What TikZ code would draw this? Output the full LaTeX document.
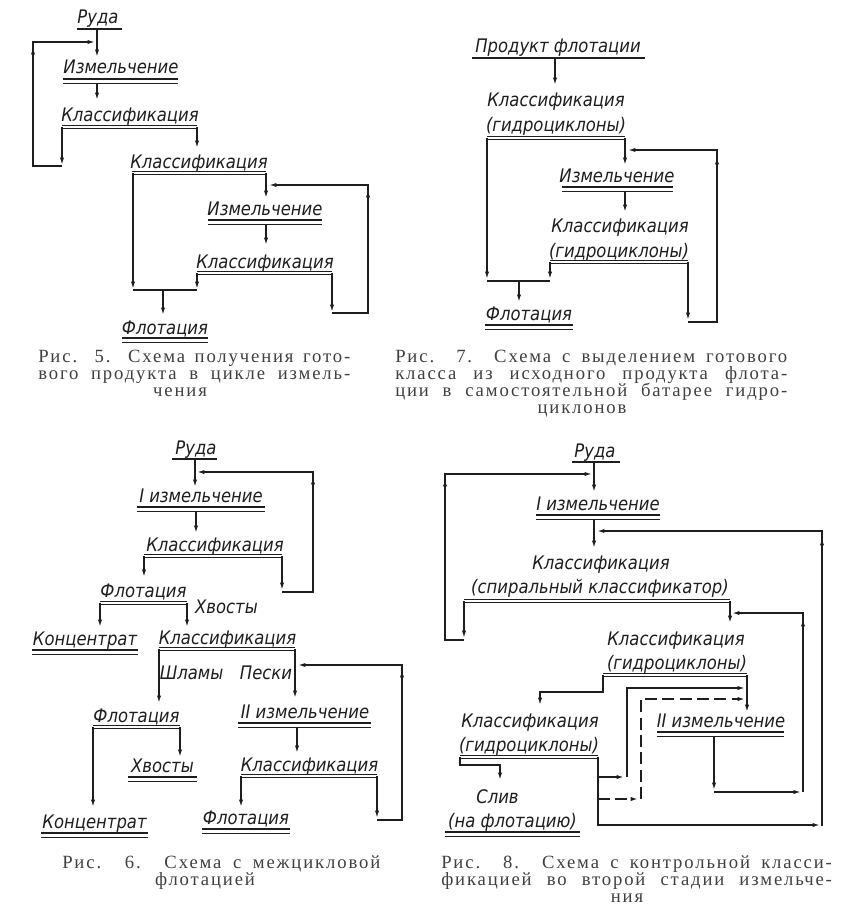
\documentclass[tikz,border=0pt]{standalone}
\usepackage{fontspec}
\setmainfont{Liberation Serif}
\newfontfamily\labfont{DejaVu Sans}[FakeStretch=0.88]
\newfontfamily\capfont{Liberation Serif}[LetterSpace=10]
\usetikzlibrary{arrows.meta}
\definecolor{ink}{HTML}{1E1E1E}
\tikzset{
  ln/.style={line width=1.1pt, ink, line join=miter},
  ar/.style={ln, -{Latex[length=5.5pt,width=3.2pt]}},
  lab/.style={font=\labfont\itshape\fontsize{14pt}{16pt}\selectfont, anchor=base, inner sep=0pt, text=ink},
  dbar/.style={draw=ink, line width=0.6pt, double=white, double distance=1.2pt},
  thbar/.style={line width=1.7pt, ink},
  capt/.style={font=\capfont\fontsize{14pt}{16pt}\selectfont, anchor=base west, inner sep=0pt, text=ink!85},
  captc/.style={capt, anchor=base},
  dsh/.style={dash pattern=on 9pt off 4pt}
}
\newcommand\twinbar[3]{\draw[line width=0.95pt,ink] (#1,#3)--(#2,#3); \draw[line width=0.6pt,ink] (#1,#3+4)--(#2,#3+4);}
\begin{document}
\begin{tikzpicture}[x=0.75pt,y=-0.75pt]
\useasboundingbox[fill=white] (0,0) rectangle (844,917);

% ================= Fig 5 =================
\node[lab] (a1) at (98,24) {Руда};
\draw[thbar] (77,29) -- (122,29);
\node[lab] (a2) at (121,74) {Измельчение};
\twinbar{63}{178}{79}
\node[lab] (a3) at (130,122) {Классификация};
\draw[dbar] (62,127)--(197,127);
\node[lab] (a4) at (199,168) {Классификация};
\draw[dbar] (132,173)--(266,173);
\node[lab] (a5) at (265,215) {Измельчение};
\twinbar{208}{322}{220}
\node[lab] (a6) at (265,268) {Классификация};
\draw[dbar] (197,273)--(332,273);
\node[lab] (a7) at (165,334) {Флотация};
\twinbar{122}{208}{338}

\draw[ar] (97,29)--(97,57);
\draw[ar] (97,83)--(97,100);
\draw[ar] (62,127)--(62,165);
\draw[ar] (62,166)--(33,166)--(33,42)--(95,42);
\draw[ar] (33,62)--(33,47);
\draw[ar] (197,127)--(197,148);
\draw[ar] (133,173)--(133,289);
\draw[ar] (266,173)--(266,198);
\draw[ar] (332,313)--(368,313)--(368,185)--(269,185);
\draw[ar] (368,205)--(368,190);
\draw[ar] (266,224)--(266,245);
\draw[ar] (197,273)--(197,289);
\draw[ln] (133,290)--(197,290);
\draw[ar] (163,290)--(163,315);
\draw[ar] (332,273)--(332,312);

\node[capt] (c5a) at (38,362) {\makebox[234pt][s]{Рис. 5. Схема получения гото-}};
\node[capt] (c5b) at (38,379) {\makebox[234pt][s]{вого продукта в цикле измель-}};
\node[captc] (c5c) at (180,396) {чения};

% ================= Fig 7 =================
\node[lab] (b1) at (558,53) {Продукт флотации};
\draw[thbar] (472,58)--(645,58);
\draw[ar] (555,58)--(555,85);
\node[lab] (b2) at (556,107) {Классификация};
\node[lab] (b2b) at (556,132) {(гидроциклоны)};
\draw[dbar] (487,138)--(625,138);
\draw[ar] (487,138)--(487,279);
\draw[ln] (487,281)--(550,281);
\draw[ar] (625,138)--(625,165);
\draw[ar] (688,322)--(717,322)--(717,150)--(628,150);
\draw[ar] (717,172)--(717,157);
\node[lab] (b3) at (617,182) {Измельчение};
\twinbar{562}{673}{187}
\draw[ar] (625,191)--(625,212);
\node[lab] (b4) at (620,232) {Классификация};
\node[lab] (b4b) at (619,257) {(гидроциклоны)};
\draw[dbar] (550,262)--(688,262);
\draw[ar] (550,262)--(550,279);
\draw[ar] (688,262)--(688,320);
\draw[ar] (519,281)--(519,302);
\node[lab] (b5) at (529,320) {Флотация};
\twinbar{485}{573}{325}

\node[capt] (c7a) at (395,362) {\makebox[294pt][s]{Рис. 7. Схема с выделением готового}};
\node[capt] (c7b) at (395,379) {\makebox[294pt][s]{класса из исходного продукта флота-}};
\node[capt] (c7c) at (395,396) {\makebox[294pt][s]{ции в самостоятельной батарее гидро-}};
\node[captc] (c7d) at (582,413) {циклонов};

% ================= Fig 6 =================
\node[lab] (d1) at (196,454) {Руда};
\draw[thbar] (172,459)--(217,459);
\draw[ar] (195,459)--(195,487);
\node[lab] (d2) at (201,502) {I измельчение};
\twinbar{137}{265}{507}
\draw[ar] (196,511)--(196,533);
\node[lab] (d3) at (215,551) {Классификация};
\draw[dbar] (144,556)--(282,556);
\draw[ar] (144,556)--(144,577);
\draw[ar] (282,556)--(282,590);
\draw[ar] (282,592)--(313,592)--(313,472)--(197,472);
\draw[ar] (313,492)--(313,477);
\node[lab] (d4) at (143.5,597) {Флотация};
\draw[dbar] (100,603)--(187,603);
\node[lab] (d5) at (226.5,613) {Хвосты};
\draw[ar] (100,603)--(100,627);
\draw[ar] (187,603)--(187,627);
\node[lab] (d6) at (85,645) {Концентрат};
\twinbar{32}{138}{650}
\node[lab] (d7) at (227.5,644) {Классификация};
\draw[dbar] (159,649)--(295,649);
\draw[ar] (159,649)--(159,703);
\draw[ar] (295,649)--(295,698);
\node[lab] (d8) at (191.5,679) {Шламы};
\node[lab] (d9) at (266,679) {Пески};
\draw[ar] (377,820)--(402,820)--(402,665)--(298,665);
\draw[ar] (402,685)--(402,670);
\node[lab] (d10) at (136.5,722) {Флотация};
\draw[dbar] (93,727)--(180,727);
\draw[ar] (93,727)--(93,807);
\draw[ar] (180,727)--(180,757);
\node[lab] (d11) at (305,718) {II измельчение};
\twinbar{238}{371}{723}
\draw[ar] (297,727)--(297,753);
\node[lab] (d12) at (309.5,771) {Классификация};
\draw[dbar] (241,776)--(377,776);
\draw[ar] (241,776)--(241,807);
\draw[ar] (377,776)--(377,818);
\node[lab] (d13) at (162.5,772) {Хвосты};
\twinbar{128}{197}{777}
\node[lab] (d14) at (94.5,828) {Концентрат};
\twinbar{41}{148}{833}
\node[lab] (d15) at (246,824) {Флотация};
\twinbar{202}{290}{829}

\node[capt] (c6a) at (62,868) {\makebox[238.5pt][s]{Рис. 6. Схема с межцикловой}};
\node[captc] (c6b) at (205,885) {флотацией};

% ================= Fig 8 =================
\node[lab] (e1) at (595,457) {Руда};
\draw[thbar] (572,462)--(620,462);
\draw[ar] (594,462)--(594,492);
\node[lab] (e2) at (598,510) {I измельчение};
\twinbar{536}{660}{515}
\draw[ar] (594,519)--(594,548);
\node[lab] (e3) at (601,569) {Классификация};
\node[lab] (e3b) at (600,593) {(спиральный классификатор)};
\draw[dbar] (464,601)--(730,601);
\draw[ar] (464,601)--(464,638);
\draw[ar] (464,640)--(445,640)--(445,474)--(592,474);
\draw[ar] (445,495)--(445,479);
\draw[ar] (730,601)--(730,623);
\draw[ar] (803,792)--(803,613)--(732,613);
\draw[ar] (803,633)--(803,619);
\draw[ar] (822,826)--(822,531)--(597,531);
\draw[ar] (822,552)--(822,538);
\node[lab] (e4) at (676,645) {Классификация};
\node[lab] (e4b) at (677,669) {(гидроциклоны)};
\draw[dbar] (603,675)--(747,675);
\draw[ar] (603,675)--(603,692)--(540,692)--(540,705);
\draw[ar] (747,675)--(747,712);
\node[lab] (e5) at (721,727) {II измельчение};
\twinbar{657}{784}{732}
\draw[ar] (714,736)--(714,790);
\draw[ar] (714,792)--(801,792);
\node[lab] (e6) at (530,727) {Классификация};
\node[lab] (e6b) at (529,751) {(гидроциклоны)};
\draw[dbar] (460,757)--(598,757);
\draw[ar] (460,757)--(460,765)--(500,765)--(500,780);
\draw[ar] (598,757)--(598,825)--(820,825);
\draw[ar] (598,777)--(624,777);
\draw[ar] (627,777)--(627,688)--(745,688);
\draw[ar,dsh] (598,799)--(638,799);
\draw[ar,dsh] (641,799)--(641,699)--(745,699);
\node[lab] (e7) at (497.5,803) {Слив};
\node[lab] (e7b) at (512.5,827) {(на флотацию)};
\twinbar{445}{580}{832}

\node[capt] (c8a) at (441,868) {\makebox[293pt][s]{Рис. 8. Схема с контрольной класси-}};
\node[capt] (c8b) at (441,885) {\makebox[293pt][s]{фикацией во второй стадии измельче-}};
\node[captc] (c8c) at (627,902) {ния};
\end{tikzpicture}
\end{document}
